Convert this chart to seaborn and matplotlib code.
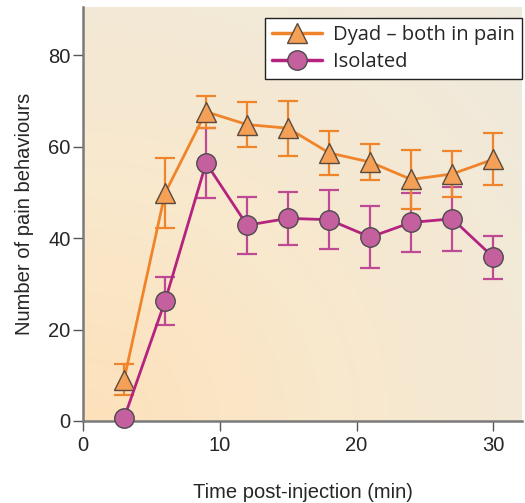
import numpy as np
import pandas as pd
import matplotlib
matplotlib.use("Agg")
import matplotlib.pyplot as plt
import seaborn as sns
from matplotlib.colors import LinearSegmentedColormap
from matplotlib.lines import Line2D

# ---- data ----
time = [3, 6, 9, 12, 15, 18, 21, 24, 27, 30]
dyad_mean = [9.0, 49.8, 67.6, 64.8, 64.0, 58.6, 56.6, 52.8, 54.0, 57.2]
dyad_err = [3.4, 7.6, 3.5, 5.0, 6.0, 4.9, 3.9, 6.5, 5.1, 5.7]
iso_mean = [0.6, 26.2, 56.4, 42.8, 44.3, 44.0, 40.2, 43.4, 44.2, 35.8]
iso_err = [0.0, 5.2, 7.6, 6.2, 5.8, 6.5, 6.7, 6.4, 7.0, 4.7]
labels = ["Dyad \u2013 both in pain", "Isolated"]

sns.set_style("ticks")
plt.rcParams['font.family'] = ['Liberation Sans', 'DejaVu Sans']

fig = plt.figure(figsize=(5.25, 5.03), dpi=100)
ax = fig.add_axes([83/525, 1-421/503, (522-83)/525, (421-7)/503])

# background gradient (style)
cmap = LinearSegmentedColormap.from_list(
    "bg", [(0.0, "#FDE1BB"), (0.4, "#F9E8CC"), (0.75, "#F3E9D6"), (1.0, "#EFE9DD")])
gx, gy = np.meshgrid(np.linspace(0, 1, 200), np.linspace(0, 1, 200))
grad = np.clip(np.sqrt(gx**2 + gy**2) / 1.35, 0, 1)
ax.imshow(grad, extent=[0, 1, 0, 1], transform=ax.transAxes, cmap=cmap,
          origin="lower", aspect="auto", zorder=0, interpolation="bicubic")

df = pd.DataFrame({
    "time": time * 2,
    "value": dyad_mean + iso_mean,
    "group": [labels[0]] * len(time) + [labels[1]] * len(time),
})

orange_line = "#F0842A"
orange_fill = "#F4A057"
mag_line = "#B3237F"
mag_fill = "#C4609E"
mag_err = "#BE4A95"

# error bars (below markers)
ax.errorbar(time, iso_mean, yerr=iso_err, fmt="none", ecolor=mag_err,
            elinewidth=1.6, capsize=7, capthick=1.6, zorder=2)
ax.errorbar(time, dyad_mean, yerr=dyad_err, fmt="none", ecolor=orange_line,
            elinewidth=1.6, capsize=7, capthick=1.6, zorder=2)

sns.lineplot(data=df, x="time", y="value", hue="group", style="group",
             palette={labels[0]: orange_line, labels[1]: mag_line},
             markers={labels[0]: "^", labels[1]: "o"}, dashes=False,
             linewidth=2.0, ax=ax, legend=False, zorder=3)

for ln in ax.get_lines():
    if ln.get_marker() == "^":
        ln.set_markersize(15)
        ln.set_markerfacecolor(orange_fill)
        ln.set_markeredgecolor("#5A4A3E")
        ln.set_markeredgewidth(1.0)
        ln.set_clip_on(False)
    elif ln.get_marker() == "o":
        ln.set_markersize(14)
        ln.set_markerfacecolor(mag_fill)
        ln.set_markeredgecolor("#4E4A4E")
        ln.set_markeredgewidth(1.0)
        ln.set_clip_on(False)

ax.set_xlim(0, 32.1)
ax.set_ylim(0, 90.5)
ax.set_xticks([0, 10, 20, 30])
ax.set_yticks([0, 20, 40, 60, 80])
ax.tick_params(axis="both", labelsize=14.5, color="#555555", length=7, width=1.0)
ax.tick_params(axis="x", pad=4)
ax.tick_params(axis="y", pad=2)

for s in ["top", "right"]:
    ax.spines[s].set_visible(False)
for s in ["left", "bottom"]:
    ax.spines[s].set_color("#7A7A7A")
    ax.spines[s].set_linewidth(1.8)

ax.set_xlabel("Time post-injection (min)", fontsize=14.5, labelpad=20)
ax.set_ylabel("Number of pain behaviours", fontsize=14.5, labelpad=10)

handles = [
    Line2D([], [], color=orange_line, lw=2.5, marker="^", markersize=15,
           markerfacecolor=orange_fill, markeredgecolor="#5A4A3E"),
    Line2D([], [], color=mag_line, lw=2.5, marker="o", markersize=14,
           markerfacecolor=mag_fill, markeredgecolor="#4E4A4E"),
]
leg = ax.legend(handles, labels, loc="upper right", bbox_to_anchor=(1.0, 0.973),
                frameon=True, fancybox=False, framealpha=1, edgecolor="#222222",
                prop={"family": "Open Sans", "size": 14.5}, handlelength=2.5,
                handletextpad=0.55, borderpad=0.35, labelspacing=0.35,
                borderaxespad=0.0)
leg.get_frame().set_linewidth(1.0)

fig.savefig("out.png", dpi=100)
